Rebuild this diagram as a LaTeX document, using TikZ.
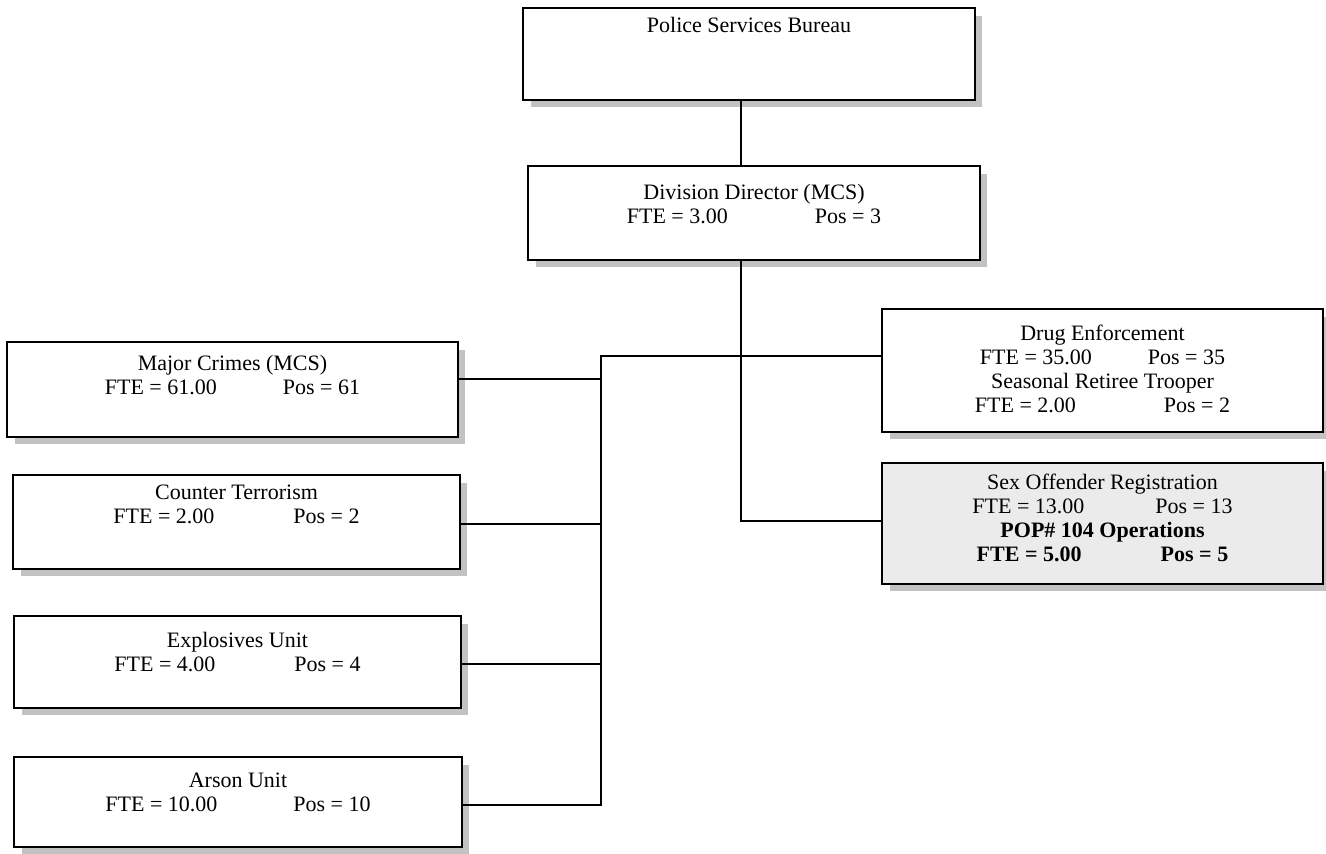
\documentclass[tikz,border=0pt]{standalone}
\usepackage{fontspec}
\setmainfont{Liberation Serif}
\definecolor{shadowc}{gray}{0.76}
\definecolor{sexfill}{gray}{0.92}
\newcommand\fp[3]{\makebox[#1][l]{#2}#3}
\tikzset{
  orgbox/.style={draw=black, line width=1.6pt, rectangle, inner sep=0pt, outer sep=0pt},
  txt/.style={anchor=north, align=center, inner sep=0pt, font=\fontsize{22}{24}\selectfont},
  conn/.style={line width=1.3pt, line cap=rect},
}
% \mkbox[fill]{name}{x1}{y1}{x2}{y2}{text yshift}{text}
\newcommand\mkbox[8][white]{%
  \fill[shadowc] (#3+8,#4+8) rectangle (#5+7,#6+7);
  \node[orgbox, fill=#1, minimum width={#5-#3}, minimum height={#6-#4}] (#2) at ({(#3+#5)/2},{(#4+#6)/2}) {};
  \node[txt] (#2-t) at ([yshift=-#7pt]#2.north) {\strut#8};
}
\begin{document}
\begin{tikzpicture}[x=1pt, y=-1pt]
\useasboundingbox (0,0) rectangle (1326,854);
\fill[white] (0,0) rectangle (1326,854);

\mkbox{psb}{523}{8}{975}{100}{7}{Police Services Bureau}
\mkbox{dd}{528}{166}{980}{260}{16}{Division Director (MCS)\\ \fp{188pt}{FTE = 3.00}{Pos = 3}}
\mkbox{major}{7}{342}{458}{437}{11}{Major Crimes (MCS)\\ \fp{178pt}{FTE = 61.00}{Pos = 61}}
\mkbox{counter}{13}{475}{460}{569}{7}{Counter Terrorism\\ \fp{180pt}{FTE = 2.00}{Pos = 2}}
\mkbox{explo}{14}{616}{461}{708}{14}{Explosives Unit\\ \fp{180pt}{FTE = 4.00}{Pos = 4}}
\mkbox{arson}{14}{757}{462}{847}{13}{Arson Unit\\ \fp{188pt}{FTE = 10.00}{Pos = 10}}
\mkbox{drug}{882}{309}{1323}{432}{14}{Drug Enforcement\\ \fp{168pt}{FTE = 35.00}{Pos = 35}\\ Seasonal Retiree Trooper\\ \fp{189pt}{FTE = 2.00}{Pos = 2}}
\mkbox[sexfill]{sex}{882}{463}{1323}{584}{9}{Sex Offender Registration\\ \fp{183pt}{FTE = 13.00}{Pos = 13}\\ \textbf{POP\# 104 Operations}\\ \textbf{\fp{184pt}{FTE = 5.00}{Pos = 5}}}

\coordinate (dcol) at (741,0);
\coordinate (jsex) at (741,521);
\coordinate (btop) at (601,356);
\coordinate (jmaj) at (601,379);
\coordinate (jcnt) at (601,524);
\coordinate (jexp) at (601,664);
\coordinate (jars) at (601,805);

\draw[conn] (psb.south -| dcol) -- (dd.north -| dcol);
\draw[conn] (dd.south -| dcol) -- (jsex) -- (jsex -| sex.west);
\draw[conn] (jmaj -| major.east) -- (jmaj) -- (btop) -- (btop -| drug.west);
\draw[conn] (btop) -- (jars);
\draw[conn] (jcnt -| counter.east) -- (jcnt);
\draw[conn] (jexp -| explo.east) -- (jexp);
\draw[conn] (jars -| arson.east) -- (jars);
\end{tikzpicture}
\end{document}
